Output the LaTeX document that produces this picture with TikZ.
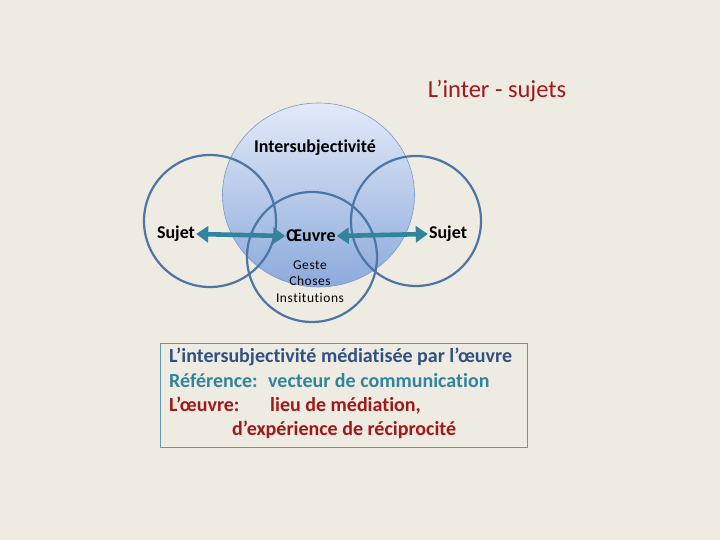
\documentclass[tikz,border=0pt]{standalone}
\usepackage{fontspec}
\setmainfont{Carlito}[Ligatures=NoCommon]
\usetikzlibrary{arrows.meta,positioning}
\definecolor{bgbeige}{HTML}{EEEBE2}
\definecolor{ringblue}{HTML}{4D76A6}
\definecolor{arrowteal}{HTML}{31849B}
\definecolor{darkred}{HTML}{A01818}
\definecolor{navy}{HTML}{2F5282}

\begin{document}
\begin{tikzpicture}[x=1pt,y=1pt,
 ring/.style={draw=ringblue,line width=2.2pt},
 link/.style={draw=arrowteal,line width=4.6pt,{Triangle[length=12pt,width=16pt]}-{Triangle[length=12pt,width=16pt]}},
 label/.style={font=\fontsize{18}{21}\selectfont\bfseries,inner sep=1pt},
 small/.style={font=\fontsize{13.5}{15}\selectfont\addfontfeatures{LetterSpace=4},inner sep=0pt}]

    \fill[bgbeige] (0,0) rectangle (720,540);
    \useasboundingbox (0,0) rectangle (720,540);

    \coordinate (Big) at (318.5,345);
    \coordinate (L) at (210,319);
    \coordinate (R) at (416,319);
    \coordinate (B) at (312,283);

    % central disc
    \shade[top color={rgb,255:red,226;green,234;blue,248},
           bottom color={rgb,255:red,140;green,170;blue,220}]
        (Big) ellipse (96 and 92);
    \draw[draw={rgb,255:red,125;green,150;blue,200},line width=0.6pt] (Big) ellipse (96 and 92);

    \draw[ring] (L) circle (66);
    \draw[ring] (R) circle (65);
    \draw[ring] (B) circle (65);

    \node[label] (inter) at (315,392) {Intersubjectivité};
    \node[label] (sujetL) at (176,306) {Sujet};
    \node[label] (oeuvre) at (311,304) {Œuvre};
    \node[label] (sujetR) at (448,306) {Sujet};

    \node[small] (geste) at (310,275) {Geste};
    \node[small] (choses) at (310,259) {Choses};
    \node[small] (inst) at (310,242) {Institutions};

    \draw[link] (sujetL.east) -- (oeuvre.west);
    \draw[link] (oeuvre.east) -- (sujetR.west);

    \node[text=darkred,font=\fontsize{24.5}{28}\selectfont] (title) at (497,449) {L’inter - sujets};

    \draw[draw=arrowteal!80,line width=0.8pt] (160,93) rectangle (527,197);
    \node[anchor=north west,align=left,inner sep=0pt,
          font=\fontsize{20}{24.3}\selectfont\bfseries] (note) at (169,192)
      {\textcolor{navy}{L’intersubjectivité médiatisée par l’œuvre}\\
       \textcolor{arrowteal}{\makebox[99pt][l]{Référence:}vecteur de communication}\\
       \textcolor{darkred}{\makebox[101pt][l]{L’œuvre:}lieu de médiation,}\\
       \textcolor{darkred}{\hspace*{63pt}d’expérience de réciprocité}};

\end{tikzpicture}
\end{document}
